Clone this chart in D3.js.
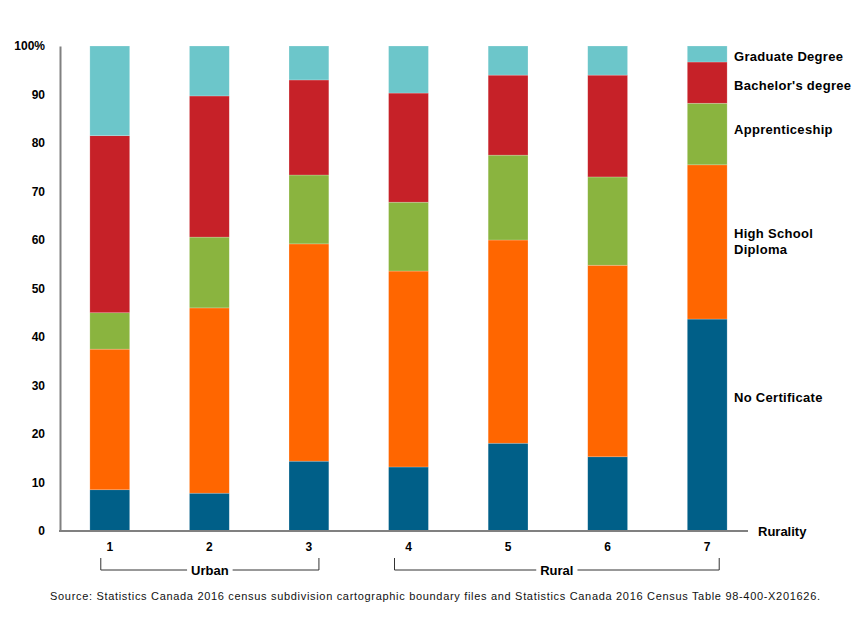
<!DOCTYPE html>
<html>
<head>
<meta charset="utf-8">
<script src="https://cdn.jsdelivr.net/npm/d3@7"></script>
<style>
  body { margin: 0; background: #fff; }
  svg { font-family: "Liberation Sans", Arial, sans-serif; }
</style>
</head>
<body>
<div id="chart"></div>
<script>
(function () {
  // rurality classes 1 (most urban) .. 7 (most rural)
  const categories = ["1", "2", "3", "4", "5", "6", "7"];
  const seriesNames = ["No Certificate", "High School Diploma", "Apprenticeship", "Bachelor's degree", "Graduate Degree"];
  const noCertificate = [8.5, 7.8, 14.4, 13.2, 18.1, 15.3, 43.7];
  const highSchool = [29.0, 38.2, 44.8, 40.4, 41.9, 39.5, 31.8];
  const apprenticeship = [7.5, 14.6, 14.2, 14.2, 17.5, 18.2, 12.7];
  const bachelors = [36.5, 29.1, 19.6, 22.5, 16.5, 21.0, 8.5];
  const graduate = [18.5, 10.3, 7.0, 9.7, 6.0, 6.0, 3.3];
  const yTicks = [0, 10, 20, 30, 40, 50, 60, 70, 80, 90, 100];
  const groups = [
    { name: "Urban", from: "1", to: "3" },
    { name: "Rural", from: "4", to: "7" }
  ];
  const source = "Source: Statistics Canada 2016 census subdivision cartographic boundary files and Statistics Canada 2016 Census Table 98-400-X201626.";

  const colors = ["#005f88", "#ff6600", "#8ab43f", "#c62128", "#6cc6ca"];

  const rows = categories.map((c, i) => ({
    cat: c,
    s0: noCertificate[i], s1: highSchool[i], s2: apprenticeship[i], s3: bachelors[i], s4: graduate[i]
  }));
  const keys = ["s0", "s1", "s2", "s3", "s4"];
  const stacked = d3.stack().keys(keys)(rows);

  const width = 853, height = 620;
  const svg = d3.select("#chart").append("svg")
    .attr("width", width)
    .attr("height", height);

  const x = d3.scaleBand()
    .domain(categories)
    .range([60, 757])
    .paddingInner(0.6)
    .paddingOuter(0.3);

  const y = d3.scaleLinear()
    .domain([0, 100])
    .range([531, 46]);

  // bars
  svg.append("g").selectAll("g")
    .data(stacked)
    .join("g")
    .attr("fill", (d, i) => colors[i])
    .selectAll("rect")
    .data(d => d)
    .join("rect")
    .attr("x", d => x(d.data.cat))
    .attr("width", x.bandwidth())
    .attr("y", d => y(d[1]))
    .attr("height", d => y(d[0]) - y(d[1]))
    .attr("stroke", "#ffffff")
    .attr("stroke-opacity", 0.35)
    .attr("stroke-width", 0.6);

  // y axis
  const yAxis = svg.append("g")
    .attr("transform", "translate(60,0)")
    .call(d3.axisLeft(y).tickValues(yTicks).tickSize(0).tickPadding(15)
      .tickFormat(d => d === 100 ? "100%" : d));
  yAxis.select(".domain").attr("stroke", "#808080").attr("stroke-width", 2);
  yAxis.selectAll("text")
    .attr("font-size", 12).attr("font-weight", "bold").attr("fill", "#000")
    .attr("font-family", "Liberation Sans, Arial, sans-serif");

  // x axis
  const xAxis = svg.append("g")
    .attr("transform", "translate(0,531)")
    .call(d3.axisBottom(x).tickSize(0).tickPadding(11));
  xAxis.select(".domain").remove();
  svg.append("line")
    .attr("x1", 59).attr("x2", 748)
    .attr("y1", 531).attr("y2", 531)
    .attr("stroke", "#808080").attr("stroke-width", 2);
  xAxis.selectAll("text")
    .attr("font-size", 12).attr("font-weight", "bold").attr("fill", "#000")
    .attr("font-family", "Liberation Sans, Arial, sans-serif");

  svg.append("text")
    .attr("x", 758).attr("y", 536)
    .attr("font-size", 13).attr("font-weight", "bold")
    .text("Rurality");

  // urban / rural brackets
  const bracketPad = { Urban: [9, 10], Rural: [14, 12] };
  groups.forEach(g => {
    const x0 = x(g.from) + x.bandwidth() / 2 - bracketPad[g.name][0];
    const x1 = x(g.to) + x.bandwidth() / 2 + bracketPad[g.name][1];
    const mid = (x0 + x1) / 2;
    const yTop = 558, yBot = 570;
    const label = svg.append("text")
      .attr("x", mid).attr("y", yBot + 5)
      .attr("text-anchor", "middle")
      .attr("font-size", 13).attr("font-weight", "bold")
      .text(g.name);
    const w = label.node().getComputedTextLength() / 2 + 4;
    svg.append("path")
      .attr("d", `M${x0},${yTop}V${yBot}H${mid - w}M${mid + w},${yBot}H${x1}V${yTop}`)
      .attr("fill", "none")
      .attr("stroke", "#333")
      .attr("stroke-width", 1);
  });

  // series labels to the right of the last bar
  const labelY = [398, 234, 130, 86, 57];
  const labelLines = [["No Certificate"], ["High School", "Diploma"], ["Apprenticeship"], ["Bachelor's degree"], ["Graduate Degree"]];
  labelLines.forEach((lines, i) => {
    const t = svg.append("text")
      .attr("x", 734).attr("y", labelY[i] + 4)
      .attr("font-size", 13).attr("font-weight", "bold")
      .attr("letter-spacing", 0.3)
      .attr("fill", "#000");
    lines.forEach((ln, j) => {
      t.append("tspan").attr("x", 734).attr("dy", j === 0 ? 0 : 16).text(ln);
    });
  });

  // source note
  svg.append("text")
    .attr("x", 50).attr("y", 600)
    .attr("font-size", 11)
    .attr("fill", "#111")
    .attr("textLength", 770)
    .attr("lengthAdjust", "spacing")
    .text(source);
})();
</script>
</body>
</html>
